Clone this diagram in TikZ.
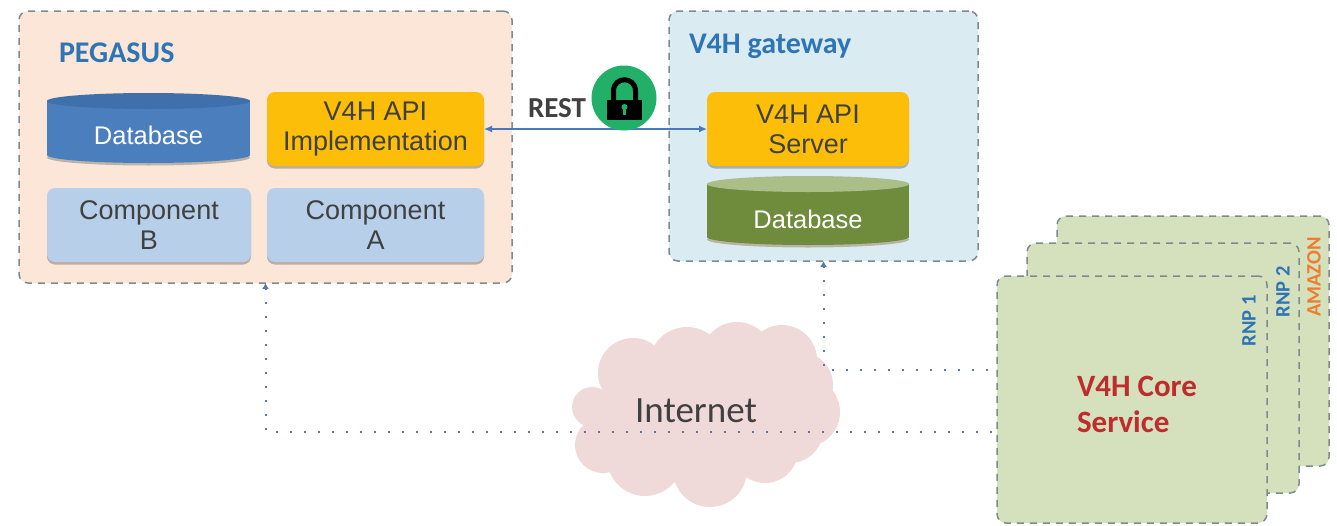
\documentclass[tikz,border=0pt]{standalone}
\usepackage{fontspec}
\setmainfont{Liberation Sans}
\newfontfamily\calfont{Carlito}
\usetikzlibrary{arrows.meta,shadows}
\definecolor{peach}{HTML}{FBE6D8}
\definecolor{sky}{HTML}{DAEBF2}
\definecolor{amberb}{HTML}{FDBE0A}
\definecolor{paleblue}{HTML}{B7CFE9}
\definecolor{sage}{HTML}{D5E0BC}
\definecolor{rosy}{HTML}{F0D9D9}
\definecolor{dashgrey}{HTML}{7F8A8F}
\definecolor{dotblue}{HTML}{5A78A8}
\definecolor{lockgreen}{HTML}{22B068}
\definecolor{titleblue}{HTML}{2E75B6}
\definecolor{restblue}{HTML}{4A78BE}
\definecolor{txt}{HTML}{404040}
\definecolor{dbbluebody}{HTML}{4A7EBD}
\definecolor{dbblueend}{HTML}{3F70AC}
\definecolor{dbgreenbody}{HTML}{6E8C3C}
\definecolor{dbgreenend}{HTML}{AABE87}
\definecolor{dbshade}{HTML}{B8B4A8}
\definecolor{corered}{HTML}{BE2D2D}
\definecolor{amazonorange}{HTML}{ED7D31}
% centre x, half width, y of top ellipse centre, y of bottom ellipse centre, body colour, end colour
\newcommand{\dbcyl}[6]{%
  \fill[dbshade] (#1,#4+2.5) ellipse[x radius=#2pt,y radius=8pt];
  \fill[#5] (#1-#2,#3) rectangle (#1+#2,#4);
  \fill[#5] (#1,#4) ellipse[x radius=#2pt,y radius=8pt];
  \fill[#6] (#1,#3) ellipse[x radius=#2pt,y radius=8pt];
}
\tikzset{
  x=1pt,y=-1pt,
  every node/.style={inner sep=0pt,outer sep=0pt},
  softshadow/.style={drop shadow={shadow xshift=0pt,shadow yshift=-2.5pt,opacity=.25,fill=black}},
  panel/.style={draw=dashgrey,line width=1.5pt,dash pattern=on 7pt off 6pt,rounded corners=9pt,anchor=north west},
  blockbox/.style={rounded corners=8pt,anchor=north west,softshadow,align=center,text=txt,font=\fontsize{27}{30}\selectfont},
  dblabel/.style={anchor=center,text=white,font=\fontsize{25.5}{30}\selectfont},
  paneltitle/.style={anchor=west,text=titleblue,font=\calfont\bfseries\fontsize{30}{34}\selectfont},
  sidelabel/.style={rotate=90,font=\calfont\bfseries\fontsize{20.5}{22}\selectfont},
  restlink/.style={draw=restblue,line width=1.4pt,{Latex[length=8pt,width=7pt]}-{Latex[length=8pt,width=7pt]}},
  dotlink/.style={draw=dotblue,line width=2pt,dash pattern=on 2pt off 12pt,{Latex[length=6pt,width=7pt]}-},
}
\begin{document}
\begin{tikzpicture}
\useasboundingbox (0,0) rectangle (1337,525);
% panels
\node[panel,fill=peach,minimum width=493pt,minimum height=272pt] (pegasus) at (19,11) {};
\node[panel,fill=sky,minimum width=309pt,minimum height=250pt] (gateway) at (669,11) {};
\node[paneltitle] (pegtitle) at (59,53) {PEGASUS};
\node[paneltitle] (gwtitle) at (689,46) {V4H gateway};
% blocks
\dbcyl{148.5}{101.5}{101}{155}{dbbluebody}{dbblueend}
\node[dblabel] (dbbluetext) at (148.5,135) {Database};
\node[blockbox,fill=amberb,minimum width=217pt,minimum height=74pt] (impl) at (267,92) {V4H API\\Implementation};
\node[blockbox,fill=paleblue,minimum width=204pt,minimum height=74pt] (compb) at (47,188) {Component\\B};
\node[blockbox,fill=paleblue,minimum width=217pt,minimum height=74pt] (compa) at (267,188) {Component\\A};
\node[blockbox,fill=amberb,minimum width=202pt,minimum height=74pt] (server) at (707,92) {V4H API\\Server};
\dbcyl{808}{101}{184}{237}{dbgreenbody}{dbgreenend}
\node[dblabel] (dbgreentext) at (808,219) {Database};
% REST
\draw[restlink] (impl.east) -- (server.west);
\node[anchor=center,text=txt,font=\calfont\bfseries\fontsize{29}{32}\selectfont] (rest) at (557,108) {REST};
\node[circle,fill=lockgreen,minimum size=65pt] (lock) at (624,98) {};
\fill[black] (607,100) rectangle (642,120);
\draw[black,line width=5pt] (613.5,101) -- (613.5,91) .. controls (613.5,76) and (635.5,76) .. (635.5,91) -- (635.5,101);
\fill[lockgreen] (624.5,107) circle[radius=3pt];
\fill[lockgreen] (623,107) rectangle (626,115);
% cloud
\fill[rosy]
  (592,407) circle[radius=20pt]
  (633,373) circle[radius=35pt]
  (687,365) circle[radius=38pt]
  (737,358) circle[radius=36pt]
  (782,360) circle[radius=35pt]
  (800,385) circle[radius=33pt]
  (805,412) circle[radius=35pt]
  (790,430) circle[radius=33pt]
  (765,450) circle[radius=33pt]
  (710,470) circle[radius=37pt]
  (645,458) circle[radius=38pt]
  (603,445) circle[radius=28pt]
  (700,410) ellipse[x radius=100pt,y radius=65pt];
\node[anchor=center,text=txt,font=\calfont\fontsize{37}{40}\selectfont] (inet) at (696,411) {Internet};
% stack
\node[panel,fill=sage,minimum width=272pt,minimum height=250pt] (amazon) at (1057,216) {};
\node[panel,fill=sage,minimum width=272pt,minimum height=250pt] (rnp2) at (1027,243) {};
\coordinate (portb) at (997,370);
\coordinate (porta) at (997,432);
\draw[dotlink] (gateway.south) |- (portb);
\draw[dotlink] (pegasus.south) |- (porta);
\node[panel,fill=sage,minimum width=270pt,minimum height=247pt] (core) at (997,276) {};
\node[sidelabel,text=amazonorange] (amzlabel) at (1314,277) {AMAZON};
\node[sidelabel,text=titleblue] (rnp2label) at (1283,292) {RNP 2};
\node[sidelabel,text=titleblue] (rnp1label) at (1249,321) {RNP 1};
\node[anchor=north west,align=left,text=corered,font=\calfont\bfseries\fontsize{31}{36}\selectfont] (corelabel) at (1077,376) {V4H Core\\Service};
\end{tikzpicture}
\end{document}
